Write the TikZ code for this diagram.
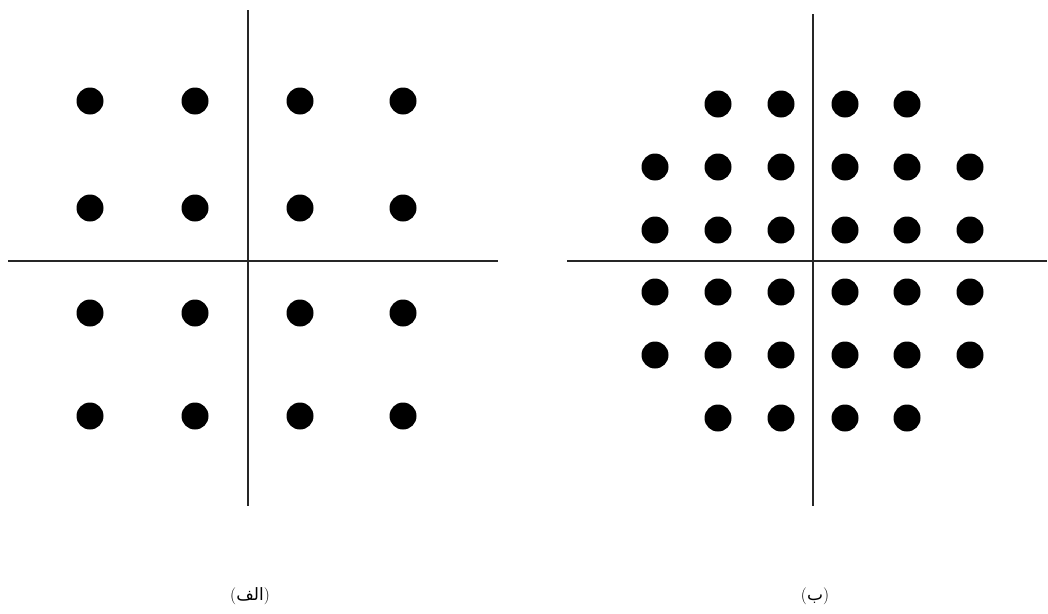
\documentclass[tikz,border=0pt]{standalone}
\usepackage{fontspec}
\newfontfamily\arabicfont[Script=Arabic]{DejaVu Sans}
\TeXXeTstate=1
\begin{document}
\begin{tikzpicture}[x=1pt,y=-1pt,
  axis/.style={line width=1.6pt,draw=black!85},
  dot/.style={fill=black},
  lbl/.style={inner sep=0pt,font=\fontsize{17}{20}\selectfont}]
\useasboundingbox (0,0) rectangle (1048,613);
% left panel
\draw[axis] (248,10) -- (248,506);
\draw[axis] (8,261) -- (498,261);
\foreach \x in {90,195,300,403}
  \foreach \y in {101,208,313,416}
    \fill[dot] (\x,\y) circle (13.5);
% right panel
\draw[axis] (813,14) -- (813,506);
\draw[axis] (567,261) -- (1047,261);
\foreach \x in {655,718,781,845,907,970}
  \foreach \y in {167,230,292,355}
    \fill[dot] (\x,\y) circle (13.5);
\foreach \x in {718,781,845,907}
  \foreach \y in {104,418}
    \fill[dot] (\x,\y) circle (13.5);
\node[lbl] (la) at (250,596) {({\arabicfont\beginR الف\endR})};
\node[lbl] (lb) at (815,596) {({\arabicfont\beginR ب\endR})};
\end{tikzpicture}
\end{document}
